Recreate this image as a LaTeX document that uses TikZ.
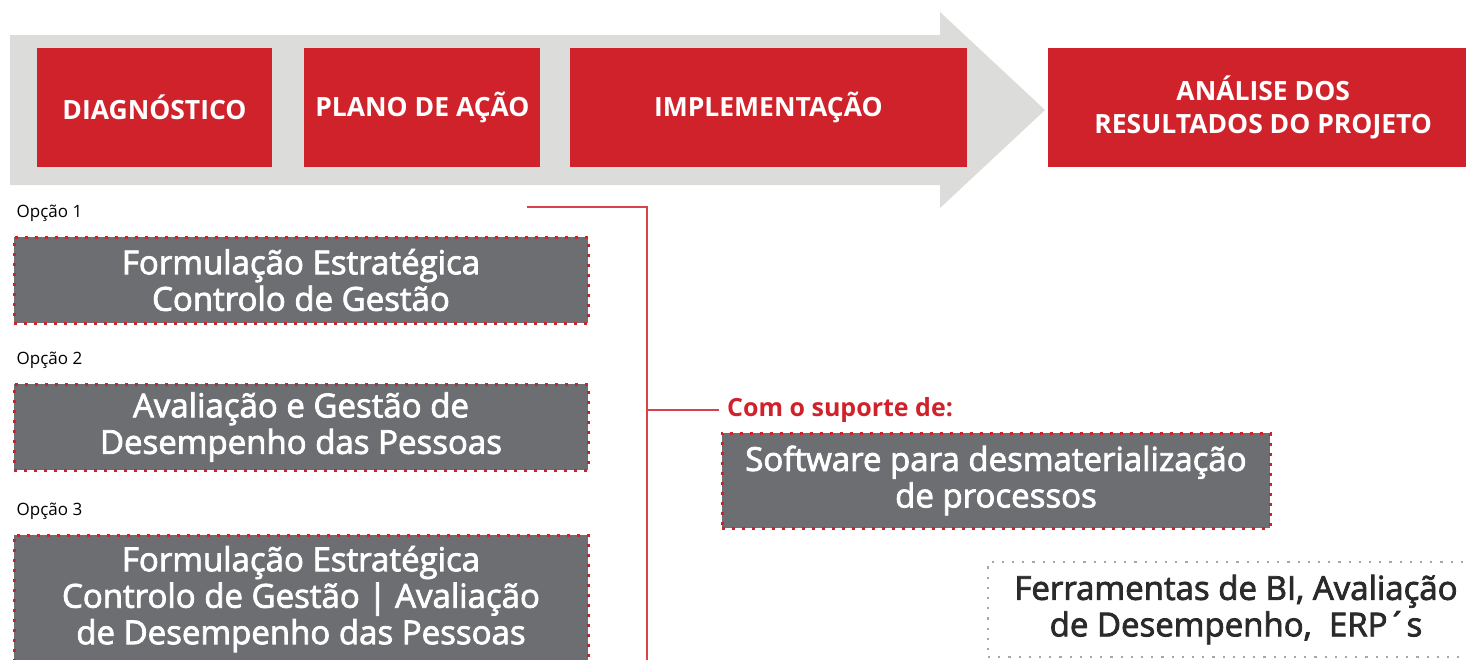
\documentclass[tikz,border=0pt]{standalone}
\usepackage{fontspec}
\setmainfont{Open Sans}
\newfontfamily\medio{Open Sans}[FakeBold=2.4]
\usepackage{tikz}
\usetikzlibrary{positioning}
\definecolor{vermelho}{HTML}{D0222B}
\definecolor{cinza}{HTML}{6D6E71}
\definecolor{cinzaclaro}{HTML}{DCDCDB}
\definecolor{escuro}{HTML}{2B2A2B}
\tikzset{font={\fontsize{33pt}{36.5pt}\selectfont\medio}}

\begin{document}
\begin{tikzpicture}[
  x=1pt, y=-1pt,
  node distance=30pt and 30pt,
  fase/.style={rectangle, fill=vermelho, minimum height=119pt, inner sep=0pt, text=white, align=center, font={\fontsize{26.5pt}{33pt}\selectfont\rmfamily\bfseries}},
  opcao/.style={rectangle, fill=cinza, draw=vermelho, line width=3pt, dash pattern=on 3pt off 7pt, text=white, align=center, minimum width=574pt, inner sep=0pt},
  ferramenta/.style={rectangle, fill=white, draw=gray!70, line width=2.2pt, dash pattern=on 2.2pt off 8pt, text=escuro, align=center, inner sep=0pt},
  rotulo/.style={inner sep=0pt, font={\fontsize{17pt}{20pt}\selectfont\rmfamily}},
  ligacao/.style={draw=vermelho!85, line width=1.6pt}
]
\useasboundingbox (0,0) rectangle (1466,659);

% seta de fundo
\fill[cinzaclaro] (10,35) -- (940,35) -- (940,12) -- (1045,110) -- (940,208) -- (940,185) -- (10,185) -- cycle;

% fases
\node[fase, minimum width=235pt] (diag) at (154.5,107.5) {DIAGNÓSTICO};
\node[fase, minimum width=236pt, right=32pt of diag] (plano) {PLANO DE AÇÃO};
\node[fase, minimum width=397pt, right=29pt of plano] (impl) {IMPLEMENTAÇÃO};
\node[fase, minimum width=430pt, right=81pt of impl] (analise) {ANÁLISE DOS\\RESULTADOS DO PROJETO};

% opcoes
\node[opcao, minimum height=86pt] (op1) at (301,280) {Formulação Estratégica\\Controlo de Gestão};
\node[opcao, minimum height=86pt, below=58pt of op1] (op2) {Avaliação e Gestão de\\Desempenho das Pessoas};
\node[opcao, minimum height=128pt, below=62pt of op2] (op3) {Formulação Estratégica\\Controlo de Gestão | Avaliação\\de Desempenho das Pessoas};
\node[rotulo, above right=14pt and 4pt of op1.north west] (r1) {Opção 1};
\node[rotulo, above right=14pt and 4pt of op2.north west] (r2) {Opção 2};
\node[rotulo, above right=14pt and 4pt of op3.north west] (r3) {Opção 3};

% suporte
\node[anchor=west, inner sep=0pt, text=vermelho, font={\fontsize{25pt}{28pt}\selectfont\rmfamily\bfseries}] (suporte) at (727,410) {Com o suporte de:};
\node[opcao, minimum width=548pt, minimum height=95pt] (software) at (996,480.5) {Software para desmaterialização\\de processos};
\node[ferramenta, minimum width=496pt, minimum height=95pt] (bi) at (1236,609.5) {Ferramentas de BI, Avaliação\\de Desempenho,\ \ ERP´s};

% ligacoes
\coordinate (c1) at (527,207);
\coordinate (c2) at (647,207);
\coordinate (c3) at (647,662);
\draw[ligacao] (c1) -- (c2) -- (c3);
\draw[ligacao] (c2 |- suporte.west) -- ([xshift=-8pt]suporte.west);
\end{tikzpicture}
\end{document}
